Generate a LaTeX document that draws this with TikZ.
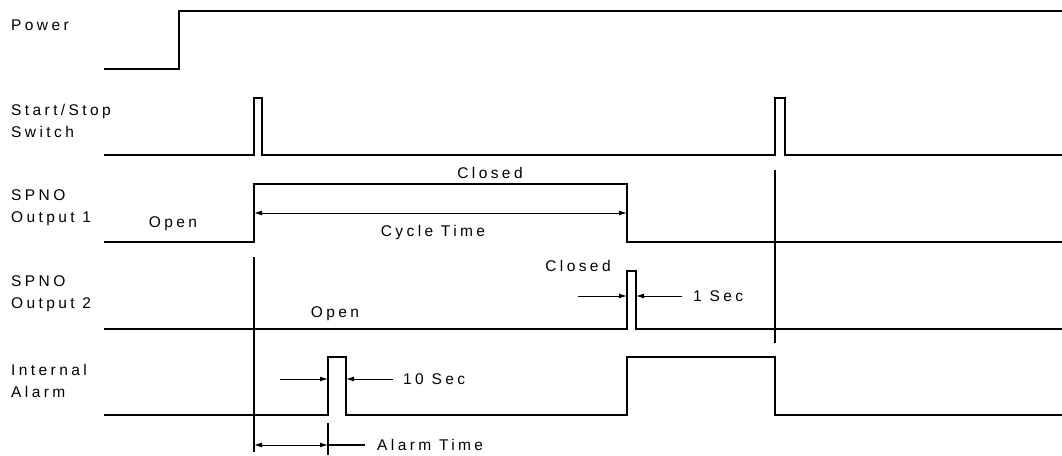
\documentclass[tikz,border=0pt]{standalone}
\usepackage{fontspec}
\setmainfont[LetterSpace=22]{Liberation Sans}
\usetikzlibrary{arrows.meta}

\begin{document}
\begin{tikzpicture}[x=1pt,y=-1pt,
    wave/.style={line width=1.3pt},
    tick/.style={line width=1.1pt},
    dim/.style={line width=1pt,-{Latex[length=8pt,width=5pt]}},
    dimboth/.style={line width=1pt,{Latex[length=8pt,width=5pt]}-{Latex[length=8pt,width=5pt]}},
    lbl/.style={font=\fontsize{15.5}{22}\selectfont,inner sep=0pt},
    sig/.style={lbl,anchor=west,align=left}]

% --- Frame ---
\useasboundingbox (0,0) rectangle (1062,455);

% --- Time marks ---
\def\xs{104}     % start of traces
\def\xp{179}     % power on
\def\ta{254}     % first press
\def\tal{328}    % alarm on
\def\tb{627}     % end of cycle
\def\tc{775}     % second press
\def\xe{1062}    % end of traces

% --- Signal names ---
\node[sig] (power) at (11,25) {Power};
\node[sig] (sw) at (11,121) {Start/Stop\\Switch};
\node[sig] (out1) at (11,208) {SPNO\\Output 1};
\node[sig] (out2) at (11,294) {SPNO\\Output 2};
\node[sig] (alarm) at (11,381) {Internal\\Alarm};

% --- Power ---
\draw[wave] (\xs,69) -- (\xp,69) -- (\xp,11) -- (\xe,11);

% --- Start/Stop switch ---
\draw[wave] (\xs,155) -- (\ta,155) -- (\ta,98) -- (262,98) -- (262,155)
      -- (\tc,155) -- (\tc,98) -- (785,98) -- (785,155) -- (\xe,155);

% --- SPNO output 1 ---
\draw[wave] (\xs,242) -- (\ta,242) -- (\ta,184) -- (\tb,184) -- (\tb,242) -- (\xe,242);
\node[lbl] (open1) at (173,224) {Open};
\node[lbl] (closed1) at (490,173) {Closed};
\coordinate (cyA) at (\ta,213);
\coordinate (cyB) at (\tb,213);
\draw[dimboth] (cyA) -- (cyB);
\node[lbl] (cycle) at (433,232) {Cycle Time};

% --- SPNO output 2 ---
\draw[wave] (\xs,329) -- (\tb,329) -- (\tb,271) -- (636,271) -- (636,329) -- (\xe,329);
\node[lbl] (open2) at (335,314) {Open};
\node[lbl] (closed2) at (578,266) {Closed};
\coordinate (s1a) at (578,296);
\coordinate (s1b) at (\tb,296);
\coordinate (s1c) at (682,296);
\coordinate (s1d) at (636,296);
\draw[dim] (s1a) -- (s1b);
\draw[dim] (s1c) -- (s1d);
\node[lbl,anchor=west] (onesec) at (693,296) {1 Sec};

% --- Internal alarm ---
\draw[wave] (\xs,415) -- (\tal,415) -- (\tal,357) -- (346,357) -- (346,415)
      -- (\tb,415) -- (\tb,357) -- (\tc,357) -- (\tc,415) -- (\xe,415);
\coordinate (tsa) at (280,379);
\coordinate (tsb) at (\tal,379);
\coordinate (tsc) at (393,379);
\coordinate (tsd) at (346,379);
\draw[dim] (tsa) -- (tsb);
\draw[dim] (tsc) -- (tsd);
\node[lbl,anchor=west] (tensec) at (403,379) {10 Sec};

% --- Reference lines ---
\draw[tick] (\ta,257) -- (\ta,452);
\draw[tick] (\tc,170) -- (\tc,343);
\draw[tick] (\tal,423) -- (\tal,455);

% --- Alarm time ---
\coordinate (atA) at (\ta,445);
\coordinate (atB) at (\tal,445);
\coordinate (atC) at (365,445);
\draw[dimboth] (atA) -- (atB);
\draw[tick] (atB) -- (atC);
\node[lbl,anchor=west] (alarmtime) at (377,445) {Alarm Time};

\end{tikzpicture}
\end{document}
